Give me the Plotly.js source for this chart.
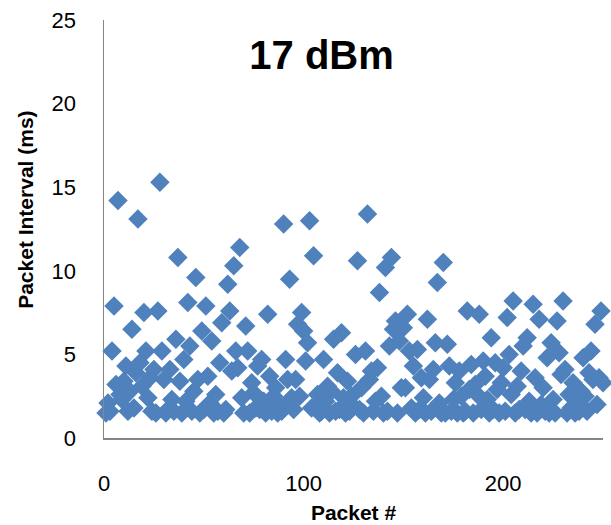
<!DOCTYPE html>
<html>
<head>
<meta charset="utf-8">
<script src="https://cdn.plot.ly/plotly-3.0.1.min.js"></script>
<style>html,body{margin:0;padding:0;background:#fff;}#chart{width:611px;height:525px;}</style>
</head>
<body>
<div id="chart"></div>
<script>
// Packet interval (ms) for packets 1..250
const intervals = [
  1.5, 2.1, 1.6, 5.2, 7.9, 3.2, 14.2, 2.6, 2.3, 3.4,
  4.3, 1.6, 2.8, 6.5, 1.8, 3.9, 13.1, 4.5, 3.1, 7.5,
  5.2, 2.4, 3.6, 1.6, 4.1, 1.5, 7.6, 15.3, 5.2, 3.5,
  1.5, 1.7, 4.1, 2.3, 1.6, 5.9, 10.8, 3.4, 1.5, 4.7,
  2.2, 8.1, 5.5, 1.6, 2.8, 9.6, 3.5, 1.5, 6.4, 1.7,
  7.9, 3.7, 2.1, 5.8, 1.5, 2.6, 1.6, 4.5, 6.9, 1.5,
  1.7, 9.2, 7.6, 4.0, 10.3, 5.2, 4.2, 11.4, 2.4, 1.5,
  6.7, 5.2, 1.5, 3.3, 2.7, 1.8, 4.3, 1.7, 4.7, 2.2,
  1.5, 7.4, 3.7, 1.6, 2.5, 3.0, 1.5, 2.0, 1.6, 12.8,
  4.7, 3.5, 9.5, 2.4, 1.7, 3.5, 6.8, 2.5, 7.5, 6.4,
  4.6, 5.7, 13.0, 1.8, 10.9, 1.9, 2.6, 1.5, 1.6, 4.7,
  2.2, 3.1, 1.5, 2.8, 5.9, 1.6, 3.9, 1.7, 6.3, 2.4,
  1.5, 3.4, 1.6, 2.5, 1.9, 5.0, 10.6, 1.7, 3.0, 1.5,
  5.2, 13.4, 3.5, 4.0, 1.6, 2.2, 4.2, 8.7, 2.5, 1.5,
  10.2, 1.6, 5.5, 10.8, 6.5, 7.0, 1.5, 5.8, 3.0, 6.6,
  3.0, 7.4, 5.2, 1.8, 4.3, 1.5, 5.3, 1.7, 3.6, 2.4,
  1.5, 7.1, 3.5, 1.6, 4.1, 5.7, 9.3, 2.1, 1.5, 10.5,
  1.5, 5.6, 4.3, 1.6, 2.3, 3.3, 1.5, 4.0, 2.5, 1.5,
  1.6, 7.6, 2.9, 4.4, 1.5, 3.2, 2.6, 7.4, 1.7, 4.6,
  3.7, 2.3, 1.5, 6.0, 1.7, 4.5, 2.9, 1.5, 3.3, 4.2,
  1.6, 7.2, 5.0, 2.6, 8.2, 1.5, 3.1, 1.7, 4.0, 5.5,
  1.7, 6.0, 2.2, 1.5, 8.0, 3.6, 1.5, 7.1, 2.0, 3.0,
  1.6, 4.8, 1.5, 5.7, 2.3, 1.5, 7.0, 5.1, 3.8, 8.2,
  4.1, 1.5, 2.6, 1.8, 3.3, 1.5, 2.1, 1.6, 2.8, 4.8,
  2.5, 1.6, 3.9, 5.2, 3.5, 6.8, 2.0, 3.6, 7.6, 3.3
];
const packetNumbers = intervals.map((_, i) => i + 1);
const xTickValues = [0, 100, 200];
const yTickValues = [0, 5, 10, 15, 20, 25];

const FONT = 'Liberation Sans, Arial, sans-serif';

const trace = {
  type: 'scatter',
  mode: 'markers',
  x: packetNumbers,
  y: intervals,
  cliponaxis: false,
  marker: { symbol: 'diamond', size: 15, color: '#4F81BD', line: { width: 0 } },
  hoverinfo: 'x+y'
};

const layout = {
  width: 611,
  height: 525,
  margin: { l: 104, r: 8, t: 20, b: 87 },
  paper_bgcolor: '#ffffff',
  plot_bgcolor: '#ffffff',
  showlegend: false,
  font: { family: FONT, color: '#000000', size: 22 },
  title: {
    text: '<b>17 dBm</b>',
    font: { family: FONT, size: 40, color: '#000000' },
    xref: 'paper', x: 0.436, xanchor: 'center',
    yref: 'container', y: 0.895, yanchor: 'middle'
  },
  xaxis: {
    range: [0, 250],
    tickvals: xTickValues,
    ticktext: xTickValues.map(String),
    showgrid: false, zeroline: false,
    showline: true, linecolor: '#868686', linewidth: 1.5,
    ticks: '', ticklabelstandoff: 25,
    tickfont: { family: FONT, size: 22, color: '#000000' },
    title: { text: '<b>Packet #</b>', font: { family: FONT, size: 21, color: '#000000' }, standoff: 10 }
  },
  yaxis: {
    range: [0, 25],
    tickvals: yTickValues,
    ticktext: yTickValues.map(String),
    showgrid: false, zeroline: false,
    showline: true, linecolor: '#868686', linewidth: 1.5,
    ticks: '', ticklabelstandoff: 22,
    tickfont: { family: FONT, size: 22, color: '#000000' }
  },
  annotations: [{
    text: '<b>Packet Interval (ms)</b>',
    textangle: -90,
    xref: 'paper', yref: 'paper',
    x: -0.157, y: 0.545,
    xanchor: 'center', yanchor: 'middle',
    showarrow: false,
    font: { family: FONT, size: 21, color: '#000000' }
  }]
};

Plotly.newPlot('chart', [trace], layout, { displayModeBar: false, staticPlot: true });
</script>
</body>
</html>
